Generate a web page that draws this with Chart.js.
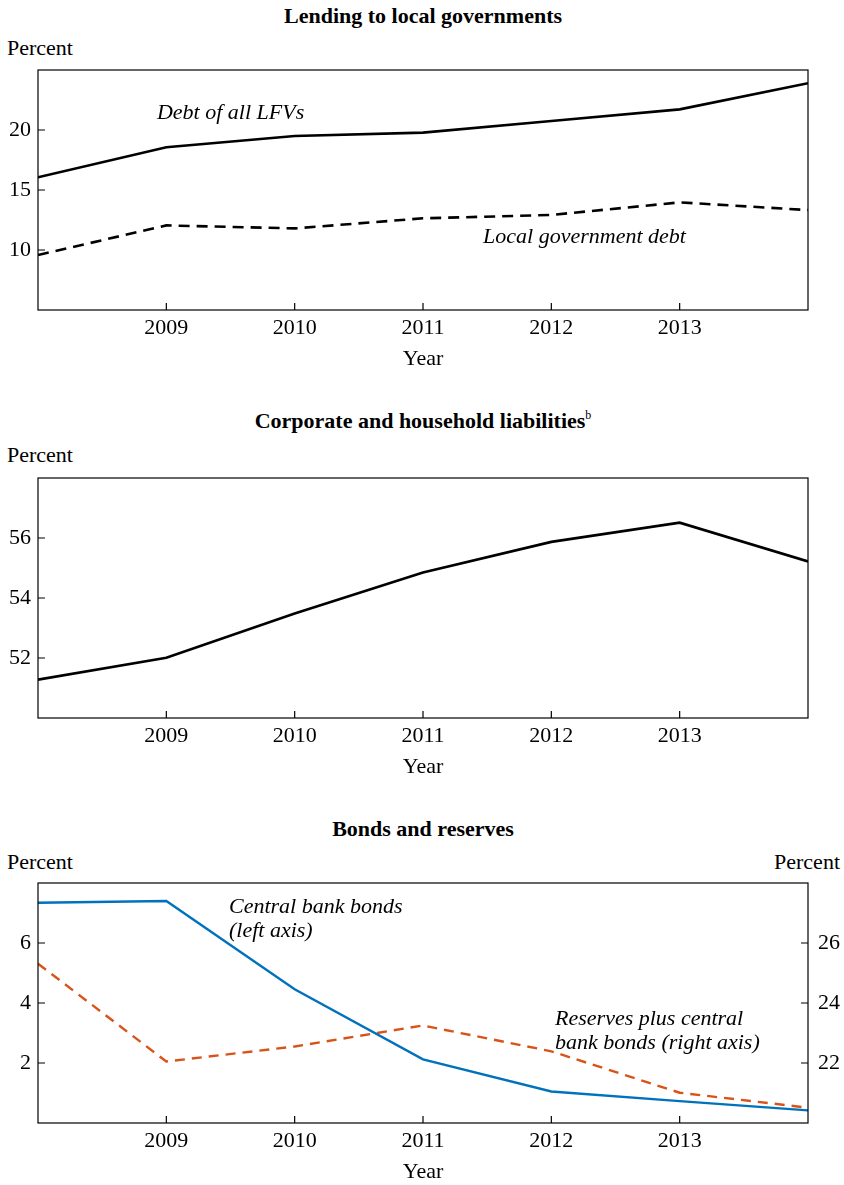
<!DOCTYPE html>
<html><head><meta charset="utf-8">
<script src="https://cdn.jsdelivr.net/npm/chart.js@4.4.1/dist/chart.umd.min.js"></script>
<style>
html,body{margin:0;padding:0;background:#fff;width:844px;height:1185px;overflow:hidden;}
body{position:relative;font-family:'Liberation Serif','Times New Roman',serif;color:#000;}
.t{position:absolute;left:38px;width:770px;text-align:center;font-weight:bold;font-size:22px;line-height:26px;white-space:nowrap;}
.p{position:absolute;font-size:22px;line-height:26px;white-space:nowrap;}
.c{position:absolute;left:0;}
sup.b{font-size:12px;font-weight:normal;vertical-align:baseline;position:relative;top:-9px;}
</style></head><body>
<div class="t" style="top:3px">Lending to local governments</div>
<div class="p" style="left:7px;top:35px">Percent</div>
<canvas id="c1" class="c" width="844" height="312" style="top:60px"></canvas>

<div class="t" style="top:408px">Corporate and household liabilities<sup class="b">b</sup></div>
<div class="p" style="left:7px;top:442px">Percent</div>
<canvas id="c2" class="c" width="844" height="312" style="top:468px"></canvas>

<div class="t" style="top:816px">Bonds and reserves</div>
<div class="p" style="left:7px;top:849px">Percent</div>
<div class="p" style="right:4px;top:849px">Percent</div>
<canvas id="c3" class="c" width="844" height="312" style="top:873px"></canvas>

<script>
// ---- data ----
const years = [2008, 2009, 2010, 2011, 2012, 2013, 2014];
const xTickYears = [2009, 2010, 2011, 2012, 2013];
const lfvDebt = [16.06, 18.56, 19.50, 19.78, 20.75, 21.72, 23.90];
const localGovDebt = [9.58, 12.05, 11.80, 12.64, 12.92, 13.97, 13.33];
const corpHouseholdLiab = [51.28, 52.01, 53.48, 54.85, 55.87, 56.51, 55.22];
const centralBankBonds = [7.34, 7.40, 4.46, 2.12, 1.05, 0.73, 0.42];
const reservesPlusBonds = [25.31, 22.05, 22.55, 23.25, 22.39, 21.01, 20.51];
const ticksLending = [10, 15, 20];
const ticksCorp = [52, 54, 56];
const ticksBondsLeft = [2, 4, 6];
const ticksBondsRight = [22, 24, 26];

// ---- styling / helpers ----
const FONT = "'Liberation Serif','Times New Roman',serif";
const tickFont = {family: FONT, size: 22, lineHeight: 1.2};
const pts = vals => years.map((y, i) => ({x: y, y: vals[i]}));
const fixTicks = arr => (s => { s.ticks = arr.map(v => ({value: v})); });
const fitWidth = w => (s => { s.width = w; s.paddingTop = 0; s.paddingBottom = 0; });

const framePlugin = {
  id: 'frame',
  afterDatasetsDraw(chart, args, opts) {
    const {ctx, chartArea: a, scales} = chart;
    ctx.save();
    ctx.strokeStyle = '#000';
    ctx.lineWidth = 1.2;
    ctx.strokeRect(a.left, a.top, a.right - a.left, a.bottom - a.top);
    const L = 7;
    ctx.beginPath();
    scales.x.ticks.forEach(t => {
      const px = scales.x.getPixelForValue(t.value);
      ctx.moveTo(px, a.bottom); ctx.lineTo(px, a.bottom - L);
    });
    scales.y.ticks.forEach(t => {
      const py = scales.y.getPixelForValue(t.value);
      ctx.moveTo(a.left, py); ctx.lineTo(a.left + L, py);
    });
    if (scales.y1) {
      scales.y1.ticks.forEach(t => {
        const py = scales.y1.getPixelForValue(t.value);
        ctx.moveTo(a.right, py); ctx.lineTo(a.right - L, py);
      });
    }
    ctx.stroke();
    // annotations
    ctx.fillStyle = '#000';
    ctx.font = 'italic 22px ' + FONT;
    ctx.textAlign = 'left';
    ctx.textBaseline = 'alphabetic';
    (opts.notes || []).forEach(n => {
      const px = scales.x.getPixelForValue(n.x);
      const py = scales.y.getPixelForValue(n.y);
      n.lines.forEach((ln, i) => ctx.fillText(ln, px, py + i * 24));
    });
    ctx.restore();
  }
};

function makeChart(id, datasets, yTicks, yMin, yMax, notes, right) {
  const scales = {
    x: {
      type: 'linear', min: 2008, max: 2014,
      afterBuildTicks: fixTicks(xTickYears),
      afterFit: s => { s.height = 62; s.paddingLeft = 0; s.paddingRight = 0; },
      ticks: {font: tickFont, color: '#000', padding: 5.5, maxRotation: 0, autoSkip: false, callback: v => String(v)},
      grid: {display: false, drawTicks: false},
      border: {display: false},
      title: {display: true, text: 'Year', color: '#000', font: tickFont, padding: {top: 0, bottom: 0}}
    },
    y: {
      type: 'linear', position: 'left', min: yMin, max: yMax,
      afterBuildTicks: fixTicks(yTicks),
      afterFit: fitWidth(38),
      ticks: {font: tickFont, color: '#000', padding: 7},
      grid: {display: false, drawTicks: false},
      border: {display: false}
    }
  };
  if (right) {
    scales.y1 = {
      type: 'linear', position: 'right', min: right.min, max: right.max,
      afterBuildTicks: fixTicks(right.ticks),
      afterFit: fitWidth(36),
      ticks: {font: tickFont, color: '#000', padding: 10},
      grid: {display: false, drawTicks: false},
      border: {display: false}
    };
  }
  return new Chart(document.getElementById(id), {
    type: 'line',
    data: {datasets},
    options: {
      responsive: false, animation: false,
      layout: {padding: {top: 10, left: 0, right: right ? 0 : 36, bottom: 0}},
      elements: {point: {radius: 0}, line: {tension: 0}},
      plugins: {legend: {display: false}, tooltip: {enabled: false}, frame: {notes}},
      scales
    },
    plugins: [framePlugin]
  });
}

makeChart('c1', [
  {data: pts(lfvDebt), borderColor: '#000', borderWidth: 2.6},
  {data: pts(localGovDebt), borderColor: '#000', borderWidth: 2.6, borderDash: [11, 7]}
], ticksLending, 5, 25, [
  {lines: ['Debt of all LFVs'], x: 2008.927, y: 20.92},
  {lines: ['Local government debt'], x: 2011.468, y: 10.55}
]);

makeChart('c2', [
  {data: pts(corpHouseholdLiab), borderColor: '#000', borderWidth: 2.6}
], ticksCorp, 50, 58, []);

makeChart('c3', [
  {data: pts(centralBankBonds), borderColor: '#0072BD', borderWidth: 2.4, yAxisID: 'y'},
  {data: pts(reservesPlusBonds), borderColor: '#D95319', borderWidth: 2.4, borderDash: [10, 7], yAxisID: 'y1'}
], ticksBondsLeft, 0, 8, [
  {lines: ['Central bank bonds', '(left axis)'], x: 2009.488, y: 7.0},
  {lines: ['Reserves plus central', 'bank bonds (right axis)'], x: 2012.029, y: 3.27}
], {min: 20, max: 28, ticks: ticksBondsRight});
</script>
</body></html>
